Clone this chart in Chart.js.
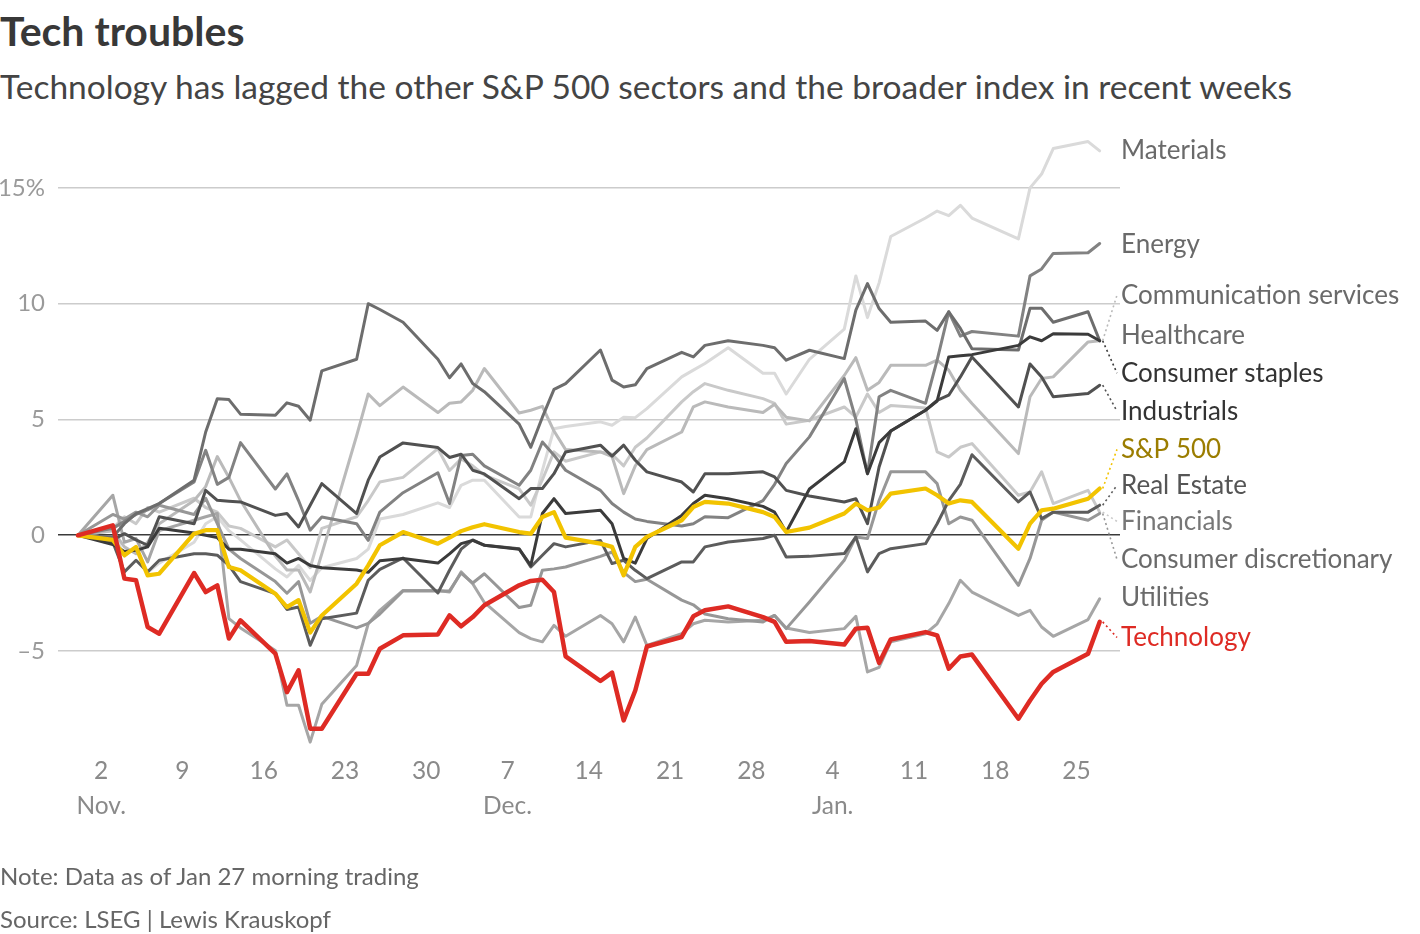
<!DOCTYPE html>
<html>
<head>
<meta charset="utf-8">
<title>Tech troubles</title>
<script src="https://cdn.jsdelivr.net/npm/chart.js@4.4.1/dist/chart.umd.min.js"></script>
<style>
  html, body { margin: 0; padding: 0; background: #fff; }
  body { width: 1420px; height: 934px; position: relative; overflow: hidden; font-family: Lato, sans-serif; }
  #title { position: absolute; left: 0; top: 10px; font-size: 41px; font-weight: 700; color: #383838; line-height: 1; }
  #subtitle { position: absolute; left: 0; top: 70px; font-size: 33.5px; color: #444; line-height: 1; }
  .note { position: absolute; left: 0; font-size: 24px; color: #666; line-height: 1; }
  canvas { position: absolute; left: 0; top: 0; }
</style>
</head>
<body>
<div id="title">Tech troubles</div>
<div id="subtitle">Technology has lagged the other S&amp;P 500 sectors and the broader index in recent weeks</div>
<canvas id="techChart" width="1420" height="934"></canvas>
<div class="note" style="top:864px">Note: Data as of Jan 27 morning trading</div>
<div class="note" style="top:907px">Source: LSEG | Lewis Krauskopf</div>

<script>
// Trading days shown in the chart (Oct 31 2025 = start, % change since then)
const dates = [
  "2025-10-31",
  "2025-11-03", "2025-11-04", "2025-11-05", "2025-11-06", "2025-11-07",
  "2025-11-10", "2025-11-11", "2025-11-12", "2025-11-13", "2025-11-14",
  "2025-11-17", "2025-11-18", "2025-11-19", "2025-11-20", "2025-11-21",
  "2025-11-24", "2025-11-25", "2025-11-26", "2025-11-28",
  "2025-12-01", "2025-12-02", "2025-12-03", "2025-12-04", "2025-12-05",
  "2025-12-08", "2025-12-09", "2025-12-10", "2025-12-11", "2025-12-12",
  "2025-12-15", "2025-12-16", "2025-12-17", "2025-12-18", "2025-12-19",
  "2025-12-22", "2025-12-23", "2025-12-24", "2025-12-26",
  "2025-12-29", "2025-12-30", "2025-12-31", "2026-01-02",
  "2026-01-05", "2026-01-06", "2026-01-07", "2026-01-08", "2026-01-09",
  "2026-01-12", "2026-01-13", "2026-01-14", "2026-01-15", "2026-01-16",
  "2026-01-20", "2026-01-21", "2026-01-22", "2026-01-23",
  "2026-01-26", "2026-01-27"
];

// Sector performance, % change
const materials = [0,
  0.2, -0.9, -0.5, -1.6, -1.2,
  -0.3, 0.5, 0.8, 0.2, -0.2,
  -1.45, -1.8, -1.3, -1.95, -1.4,
  -1.0, -0.6, 0.7, 0.9,
  1.4, 1.2, 2.16, 2.38, 2.38,
  0.79, 0.79, 2.8, 4.6, 4.7,
  4.9, 4.75, 5.1, 5.08, 5.47,
  6.84, 7.13, 7.42, 8.1,
  7.0, 7.0, 6.1, 7.6,
  8.9, 11.2, 9.4, 10.9, 12.9,
  13.7, 14.0, 13.8, 14.25, 13.7,
  12.8, 15.0, 15.6, 16.7,
  17.0, 16.6];
const energy = [0,
  0.3, 0.6, 0.9, 1.1, 1.37,
  2.3, 3.67, 2.2, 2.5, 4.0,
  2.0, 2.65, 1.5, 0.22, 0.79,
  0.5, -0.22, 1.0, 1.84,
  2.7, 1.37, 3.45, 3.5, 3.0,
  2.16, 2.81, 4.03, 3.46, 2.81,
  1.94, 1.37, 1.0, 0.7, 0.6,
  0.4, 0.5, 0.8, 0.76,
  1.5, 2.2, 3.1, 4.25,
  6.77, 5.0, 2.66, 5.98, 6.26,
  5.7, 7.56, 9.65, 8.6, 8.8,
  8.6, 11.2, 11.5, 12.17,
  12.2, 12.6];
const commServices = [0,
  0.2, -0.5, -0.8, -0.3, 0.5,
  1.5, 2.1, 3.4, 2.5, 1.5,
  -0.9, -1.5, -1.5, -2.45, -0.8,
  4.3, 6.1, 5.6, 6.4,
  5.3, 5.7, 5.76, 6.26, 7.2,
  5.28, 5.4, 5.57, 4.5, 3.7,
  3.6, 3.4, 1.8, 3.0, 3.7,
  4.46, 5.54, 5.76, 5.54,
  5.3, 5.66, 5.1, 4.94,
  6.9, 7.67, 6.26, 6.6, 7.34,
  7.34, 7.56, 7.13, 6.26, 5.69,
  3.53, 5.98, 6.77, 6.84,
  8.35, 8.4];
const healthcare = [0,
  -0.07, 0.5, 0.94, 1.15, 1.37,
  2.38, 4.46, 5.9, 5.86, 5.23,
  5.18, 5.72, 5.57, 4.97, 7.1,
  7.6, 10.0, 9.75, 9.2,
  7.6, 6.8, 7.4, 6.55, 6.2,
  4.8, 3.8, 5.1, 6.3, 6.55,
  8.0, 6.7, 6.4, 6.5, 7.2,
  7.9, 7.7, 8.2, 8.4,
  8.2, 8.1, 7.56, 7.99,
  7.63, 9.72, 10.87, 9.79, 9.2,
  9.25, 8.85, 9.65, 8.93, 8.06,
  8.0, 9.8, 9.8, 9.2,
  9.65, 8.4];
const consumerStaples = [0,
  -0.4, -0.7, -0.65, -0.5, 0.3,
  0.1, 0.0, -0.1, -0.6, -0.6,
  -0.8, -1.2, -1.0, -1.3, -1.4,
  -1.5, -1.6, -1.1, -1.0,
  -1.2, -0.8, -0.36, -0.22, -0.43,
  -0.6, -1.3, 0.94, 1.58, 0.94,
  1.08, 0.5, -1.0, -1.2, -0.14,
  0.86, 1.37, 1.73, 1.58,
  1.25, 1.0, 0.14, 2.0,
  3.17, 4.6, 2.66, 4.0, 4.5,
  5.4, 5.8, 7.7, 7.75, 7.8,
  8.2, 8.57, 8.4, 8.7,
  8.68, 8.4];
const industrials = [0,
  -0.2, 0.07, -0.2, -0.43, 0.8,
  0.5, 1.94, 1.51, 1.47, 1.44,
  0.86, 0.94, 0.36, 1.3, 2.23,
  0.94, 2.38, 3.38, 3.99,
  3.79, 3.36, 3.5, 2.81, 2.65,
  1.58, 2.02, 2.02, 2.66, 3.6,
  3.89, 3.42, 3.89, 3.24, 2.74,
  2.3, 1.87, 2.66, 2.66,
  2.74, 2.52, 1.94, 1.7,
  1.44, 1.58, 0.5, 2.95, 4.5,
  5.4, 5.83, 6.05, 6.84, 7.7,
  5.54, 7.4, 6.84, 5.98,
  6.12, 6.48];
const sp500 = [0,
  -0.2, -0.86, -0.5, -1.73, -1.66,
  0.07, 0.22, 0.22, -1.37, -1.51,
  -2.52, -3.1, -2.8, -4.2, -3.46,
  -2.09, -1.3, -0.43, 0.14,
  -0.36, -0.1, 0.18, 0.35, 0.48,
  0.14, 0.07, 0.79, 1.0, -0.1,
  -0.36, -0.5, -1.73, -0.5, -0.07,
  0.65, 1.22, 1.44, 1.37,
  1.0, 0.79, 0.14, 0.33,
  0.94, 1.37, 1.08, 1.2, 1.8,
  2.02, 1.73, 1.37, 1.51, 1.44,
  -0.58, 0.5, 1.08, 1.15,
  1.58, 2.02];
const realEstate = [0,
  -0.3, -1.58, -1.08, -1.58, -1.08,
  -0.8, -0.8, -0.86, -1.3, -2.0,
  -2.52, -3.2, -3.1, -4.75, -3.6,
  -3.36, -1.94, -1.47, -0.98,
  -2.49, -1.51, -0.6, -0.2, -0.43,
  -0.58, -1.37, -0.86, -0.36, -0.5,
  -0.22, -1.22, -1.08, -1.51, -1.87,
  -1.15, -1.15, -0.5, -0.29,
  -0.14, 0, -0.94, -0.91,
  -0.79, -0.07, -1.58, -0.79, -0.58,
  -0.36, 0.5, 1.5, 2.2, 3.48,
  1.44, 1.87, 0.72, 1.0,
  1.0, 1.3];
const financials = [0,
  0.3, 0.8, 0.5, 1.2, 1.0,
  1.6, 1.2, 1.0, 0.4, 0.3,
  -0.5, -0.2, -0.8, -1.4, 0.3,
  0.8, 1.5, 2.3, 2.5,
  3.74, 2.8, 3.3, 3.0, 2.6,
  2.0, 1.3, 2.4, 3.6, 3.2,
  3.6, 3.5, 3.0, 3.8, 4.2,
  5.76, 6.2, 6.55, 6.26,
  5.9, 5.7, 4.8, 4.97,
  5.54, 5.1, 6.1, 5.3, 5.6,
  5.5, 3.6, 3.38, 3.8, 3.96,
  1.73, 1.87, 2.74, 1.37,
  1.94, 1.0];
const consumerDisc = [0,
  0.9, 0.7, 1.0, 0.8, 1.3,
  0.9, 1.6, 0.5, -0.6, -1.0,
  -2.0, -2.5, -2.0, -3.8, -3.5,
  -4.0, -3.8, -3.4, -2.4,
  -2.4, -2.4, -1.63, -2.06, -1.66,
  -3.12, -3.02, -1.51, -1.45, -1.37,
  -0.91, -0.72, -1.6, -2.0, -1.9,
  -2.8, -3.0, -3.4, -3.6,
  -3.74, -3.46, -4.03, -2.88,
  -1.08, -0.07, -0.14, 1.5, 2.74,
  2.74, 2.23, 0.5, 0.79, 0.65,
  -2.16, -1.0, 0.65, 1.0,
  0.65, 0.94];
const utilities = [0,
  1.73, -0.3, -0.14, -1.15, 0.2,
  0.65, 0.8, 0.94, -3.6, -4.0,
  -4.97, -7.34, -7.34, -8.93, -7.3,
  -5.62, -3.82, -3.24, -2.38,
  -2.38, -2.45, -1.58, -2.09, -2.9,
  -4.2, -4.46, -4.6, -3.89, -4.36,
  -3.46, -3.82, -4.6, -3.53, -4.75,
  -4.25, -3.82, -3.67, -3.74,
  -3.67, -3.46, -4.0, -4.2,
  -4.03, -3.5, -5.9, -5.7, -4.6,
  -4.25, -3.82, -2.95, -1.94, -2.45,
  -3.46, -3.24, -3.96, -4.36,
  -3.64, -2.74];
const technology = [0,
  0.43, -1.87, -1.94, -3.96, -4.25,
  -1.63, -2.45, -2.16, -4.46, -3.67,
  -5.11, -6.77, -5.83, -8.35, -8.35,
  -5.98, -5.98, -4.9, -4.32,
  -4.28, -3.46, -3.93, -3.53, -3.02,
  -2.16, -1.97, -1.92, -2.45, -5.23,
  -6.29, -5.93, -7.99, -6.7, -4.8,
  -4.39, -3.5, -3.24, -3.07,
  -3.53, -3.74, -4.6, -4.56,
  -4.72, -4.03, -3.99, -5.51, -4.5,
  -4.18, -4.32, -5.76, -5.23, -5.15,
  -7.92, -7.13, -6.41, -5.9,
  -5.11, -3.74];

// Axis ticks
const tickDays = [2, 9, 16, 23, 30, 37, 44, 51, 58, 65, 72, 79, 86];
const tickLabels = [["2", "Nov."], "9", "16", "23", "30", ["7", "Dec."], "14", "21", "28", ["4", "Jan."], "11", "18", "25"];
const yTicks = [-5, 0, 5, 10, 15];

// Line look + where the name sits on the right (in % units)
const series = [
  { name: "Technology", values: technology, color: "#de2b24", text: "#de2b24", width: 4.5, labelAt: -4.41 },
  { name: "S&P 500", values: sp500, color: "#f2c300", text: "#9b7d00", width: 4.2, labelAt: 3.71 },
  { name: "Consumer staples", values: consumerStaples, color: "#3b3b3b", text: "#333", width: 3, labelAt: 7.0 },
  { name: "Industrials", values: industrials, color: "#515151", text: "#333", width: 3, labelAt: 5.36 },
  { name: "Real Estate", values: realEstate, color: "#5c5c5c", text: "#555", width: 3, labelAt: 2.16 },
  { name: "Healthcare", values: healthcare, color: "#6d6d6d", text: "#6a6a6a", width: 3, labelAt: 8.64 },
  { name: "Energy", values: energy, color: "#828282", text: "#6a6a6a", width: 3, labelAt: 12.53 },
  { name: "Consumer discretionary", values: consumerDisc, color: "#979797", text: "#6a6a6a", width: 3, labelAt: -1.04 },
  { name: "Utilities", values: utilities, color: "#a6a6a6", text: "#6a6a6a", width: 3, labelAt: -2.68 },
  { name: "Communication services", values: commServices, color: "#bababa", text: "#6a6a6a", width: 3, labelAt: 10.37 },
  { name: "Financials", values: financials, color: "#c9c9c9", text: "#777", width: 3, labelAt: 0.6 },
  { name: "Materials", values: materials, color: "#dadada", text: "#6a6a6a", width: 3, labelAt: 16.59 }
];

// Days since Oct 31 (the x axis is a plain number axis)
const start = Date.UTC(2025, 9, 31);
function dayOf(s) {
  const p = s.split("-");
  return (Date.UTC(+p[0], +p[1] - 1, +p[2]) - start) / 86400000;
}

// Sector names at the right end, with dotted leader lines
const endLabels = {
  id: "endLabels",
  afterDatasetsDraw(chart) {
    const ctx = chart.ctx;
    const y = chart.scales.y;
    const left = chart.chartArea.right + 1;
    ctx.save();
    ctx.font = "26px Lato";
    ctx.textBaseline = "middle";
    series.forEach((s, i) => {
      const pts = chart.getDatasetMeta(i).data;
      const last = pts[pts.length - 1];
      const ly = y.getPixelForValue(s.labelAt);
      if (Math.abs(ly - last.y) > 7) {
        ctx.beginPath();
        ctx.setLineDash([2, 3]);
        ctx.lineWidth = 1.6;
        ctx.strokeStyle = s.color;
        ctx.moveTo(last.x + 3, last.y);
        ctx.lineTo(left - 4, ly);
        ctx.stroke();
        ctx.setLineDash([]);
      }
      ctx.fillStyle = s.text;
      ctx.fillText(s.name, left, ly);
    });
    ctx.restore();
  }
};

new Chart("techChart", {
  type: "line",
  data: {
    datasets: series.map((s) => ({
      label: s.name,
      data: dates.map((d, i) => ({ x: dayOf(d), y: s.values[i] })),
      borderColor: s.color,
      borderWidth: s.width,
      pointRadius: 0,
      fill: false,
      tension: 0,
      borderJoinStyle: "round",
      borderCapStyle: "round"
    }))
  },
  options: {
    responsive: false,
    animation: false,
    layout: { padding: { left: 0, right: 300, top: 130, bottom: 111 } },
    plugins: {
      legend: { display: false },
      tooltip: { enabled: false }
    },
    scales: {
      x: {
        type: "linear",
        min: -1.72,
        max: 89.75,
        grid: { display: false },
        border: { display: false },
        afterBuildTicks: (axis) => { axis.ticks = tickDays.map((v) => ({ value: v })); },
        afterFit: (axis) => { axis.height = 70; },
        ticks: {
          autoSkip: false,
          maxRotation: 0,
          padding: -7,
          color: "#8a8a8a",
          font: { family: "Lato", size: 24.5, lineHeight: 1.42 },
          callback: (v, i) => tickLabels[i]
        }
      },
      y: {
        min: -9.4,
        max: 17.5,
        afterBuildTicks: (axis) => { axis.ticks = yTicks.map((v) => ({ value: v })); },
        afterFit: (axis) => { axis.width = 58; },
        grid: {
          drawTicks: false,
          color: (c) => (c.tick.value === 0 ? "#3a3a3a" : "#cccccc"),
          lineWidth: 1.6
        },
        border: { display: false },
        ticks: {
          padding: 13,
          color: "#9a9a9a",
          font: { family: "Lato", size: 24 },
          callback: (v) => (v === 15 ? "15%" : v < 0 ? "\u2013" + Math.abs(v) : String(v))
        }
      }
    }
  },
  plugins: [endLabels]
});
</script>
</body>
</html>
